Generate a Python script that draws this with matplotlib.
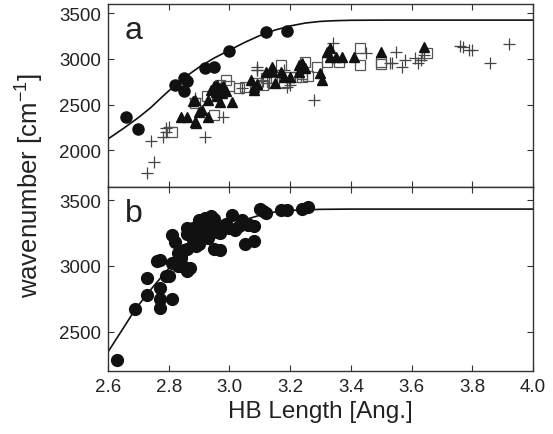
import matplotlib
matplotlib.use("Agg")
import matplotlib.pyplot as plt

plt.rcParams['font.family'] = ['Liberation Sans', 'DejaVu Sans']
plt.rcParams['mathtext.fontset'] = 'custom'
plt.rcParams['mathtext.rm'] = 'Liberation Sans'
plt.rcParams['mathtext.it'] = 'Liberation Sans:italic'

# ---------------- panel a data ----------------
a_circ_x = [2.66, 2.70, 2.82, 2.85, 2.85, 2.86, 2.92, 2.95, 3.00, 3.12, 3.19]
a_circ_y = [2360, 2230, 2710, 2790, 2650, 2760, 2900, 2915, 3090, 3295, 3305]

a_tri_x = [2.84, 2.86, 2.885, 2.89, 2.88, 2.90, 2.91, 2.93, 2.885, 2.93,
           2.94, 2.95, 2.955, 2.96, 2.97, 2.975, 2.98, 2.99, 2.96, 2.97,
           3.01, 3.07, 3.08, 3.08, 3.09, 3.12, 3.14, 3.14, 3.15, 3.17,
           3.18, 3.20, 3.23, 3.23, 3.25, 3.24, 3.30, 3.305, 3.32, 3.33,
           3.33, 3.35, 3.37, 3.41, 3.50, 3.64]
a_tri_y = [2370, 2360, 2315, 2300, 2545, 2420, 2445, 2370, 2555, 2555,
           2660, 2700, 2640, 2720, 2680, 2630, 2700, 2650, 2600, 2530,
           2530, 2770, 2690, 2660, 2730, 2860, 2870, 2910, 2740, 2860,
           2800, 2800, 2935, 2860, 2900, 2955, 2850, 2770, 3075, 3120,
           3020, 3020, 3020, 3020, 3075, 3130]

a_sq_x = [2.81, 2.885, 2.925, 2.95, 2.97, 2.99, 3.03, 3.05, 3.09, 3.11,
          3.14, 3.17, 3.20, 3.22, 3.24, 3.25, 3.26, 3.24, 3.29, 3.32,
          3.36, 3.43, 3.43, 3.50, 3.50, 3.65, 2.96, 3.00, 3.12, 3.18]
a_sq_y = [2205, 2520, 2590, 2390, 2720, 2770, 2685, 2695, 2740, 2720,
          2750, 2935, 2800, 2800, 2800, 2970, 2810, 2830, 2915, 2965,
          2965, 3120, 2935, 2940, 2970, 3065, 2650, 2700, 2790, 2740]

a_plus_x = [2.73, 2.75, 2.74, 2.78, 2.79, 2.80, 2.79, 2.92, 2.885, 2.98,
            3.04, 3.09, 3.09, 3.18, 3.20, 3.28, 3.34, 3.45, 3.53, 3.535,
            3.55, 3.57, 3.58, 3.61, 3.62, 3.63, 3.64, 3.76, 3.77, 3.79,
            3.80, 3.86, 3.92, 3.09, 3.19, 3.11, 3.13]
a_plus_y = [1750, 1870, 2100, 2150, 2200, 2260, 2250, 2150, 2575, 2360,
            2685, 2880, 2910, 2875, 2720, 2555, 3175, 3065, 2960, 2955,
            3075, 2915, 2990, 3010, 2960, 2990, 3045, 3140, 3130, 3100,
            3095, 2955, 3165, 2880, 2695, 2760, 2740]

a_fit_x = [2.60, 2.65, 2.70, 2.74, 2.78, 2.82, 2.86, 2.90, 2.95, 3.00,
           3.05, 3.10, 3.15, 3.20, 3.25, 3.30, 3.35, 3.40, 3.50, 4.00]
a_fit_y = [2125, 2238, 2358, 2465, 2590, 2710, 2815, 2910, 3010, 3095,
           3180, 3255, 3315, 3360, 3392, 3410, 3418, 3422, 3424, 3424]

# ---------------- panel b data ----------------
b_x = [2.63, 2.69, 2.73, 2.73, 2.76, 2.77, 2.77, 2.77, 2.77, 2.79,
       2.80, 2.81, 2.81, 2.82, 2.81, 2.83, 2.84, 2.85, 2.86, 2.86,
       2.87, 2.86, 2.88, 2.86, 2.88, 2.89, 2.90, 2.91, 2.92, 2.94,
       2.91, 2.93, 2.95, 2.96, 2.97, 2.93, 2.95, 2.97, 2.97, 3.01,
       3.00, 3.02, 3.04, 3.05, 3.08, 3.06, 3.08, 3.10, 3.11, 3.12,
       3.17, 3.19, 3.24, 3.26, 2.83, 2.84, 2.85, 2.88, 2.90, 2.92,
       2.94, 2.96, 2.99, 3.03, 3.06, 2.90, 2.93, 2.83, 2.845, 2.95]
b_y = [2280, 2675, 2775, 2910, 3040, 3045, 2830, 2745, 2680, 2920,
       2920, 2745, 3235, 3180, 3020, 3040, 3060, 3120, 3130, 2960,
       2980, 3290, 3290, 3245, 3200, 3150, 3170, 3340, 3365, 3380,
       3290, 3300, 3300, 3295, 3300, 3210, 3130, 3120, 3250, 3390,
       3290, 3270, 3350, 3165, 3190, 3310, 3300, 3435, 3420, 3405,
       3425, 3425, 3430, 3445, 3000, 3080, 2990, 3225, 3250, 3270,
       3270, 3260, 3320, 3300, 3320, 3350, 3340, 3100, 3000, 3360]

b_fit_x = [2.60, 2.65, 2.69, 2.75, 2.80, 2.85, 2.90, 2.95, 3.00, 3.05,
           3.10, 3.15, 3.20, 3.30, 3.40, 4.00]
b_fit_y = [2345, 2525, 2670, 2845, 2980, 3090, 3172, 3245, 3300, 3350,
           3385, 3410, 3422, 3430, 3432, 3432]

xticks = [2.6, 2.8, 3.0, 3.2, 3.4, 3.6, 3.8, 4.0]
a_yticks = [2000, 2500, 3000, 3500]
b_yticks = [2500, 3000, 3500]

fig = plt.figure(figsize=(5.53, 4.35), dpi=100)
L, R = 108 / 553, 533 / 553
axa = fig.add_axes([L, 1 - 188 / 435, R - L, 183 / 435])
axb = fig.add_axes([L, 1 - 372 / 435, R - L, 184 / 435])

frame_col = '#333333'
for ax in (axa, axb):
    ax.set_xlim(2.6, 4.0)
    ax.set_xticks(xticks)
    ax.tick_params(direction='in', length=4, width=0.8, top=True, right=True,
                   labelsize=13.5, color=frame_col, labelcolor='#222222', pad=5)
    for s in ax.spines.values():
        s.set_color(frame_col)
        s.set_linewidth(1.0)

axa.set_ylim(1600, 3600)
axa.set_yticks(a_yticks)
axa.tick_params(labelbottom=False)
axb.set_ylim(2200, 3600)
axb.set_yticks(b_yticks)
axb.set_xticklabels(['%.1f' % t for t in xticks])

# panel a
axa.plot(a_fit_x, a_fit_y, color='#111111', lw=1.2, zorder=2)
axa.plot(a_plus_x, a_plus_y, linestyle='none', marker='+', ms=8.5, mew=0.9,
         color='#444444', zorder=3)
axa.plot(a_sq_x, a_sq_y, linestyle='none', marker='s', ms=7.5, mew=0.9,
         mfc='none', mec='#555555', zorder=3)
axa.plot(a_tri_x, a_tri_y, linestyle='none', marker='^', ms=7,
         color='#111111', zorder=4)
axa.plot(a_circ_x, a_circ_y, linestyle='none', marker='o', ms=8,
         color='#111111', zorder=5)
axa.text(0.04, 0.86, 'a', transform=axa.transAxes, fontsize=23,
         va='center', ha='left', color='#222222')

# panel b
axb.plot(b_fit_x, b_fit_y, color='#111111', lw=1.2, zorder=2)
axb.plot(b_x, b_y, linestyle='none', marker='o', ms=8.5, color='#111111',
         zorder=3)
axb.text(0.04, 0.86, 'b', transform=axb.transAxes, fontsize=23,
         va='center', ha='left', color='#222222')

fig.text(30 / 553, 1 - 186 / 435, 'wavenumber [cm$^{\\mathregular{-1}}$]',
         rotation=90, va='center', ha='center', fontsize=18.5, color='#222222')
fig.text((L + R) / 2, 1 - 412 / 435, 'HB Length [Ang.]', ha='center',
         va='center', fontsize=17.5, color='#222222')

fig.savefig('out.png', dpi=100)
